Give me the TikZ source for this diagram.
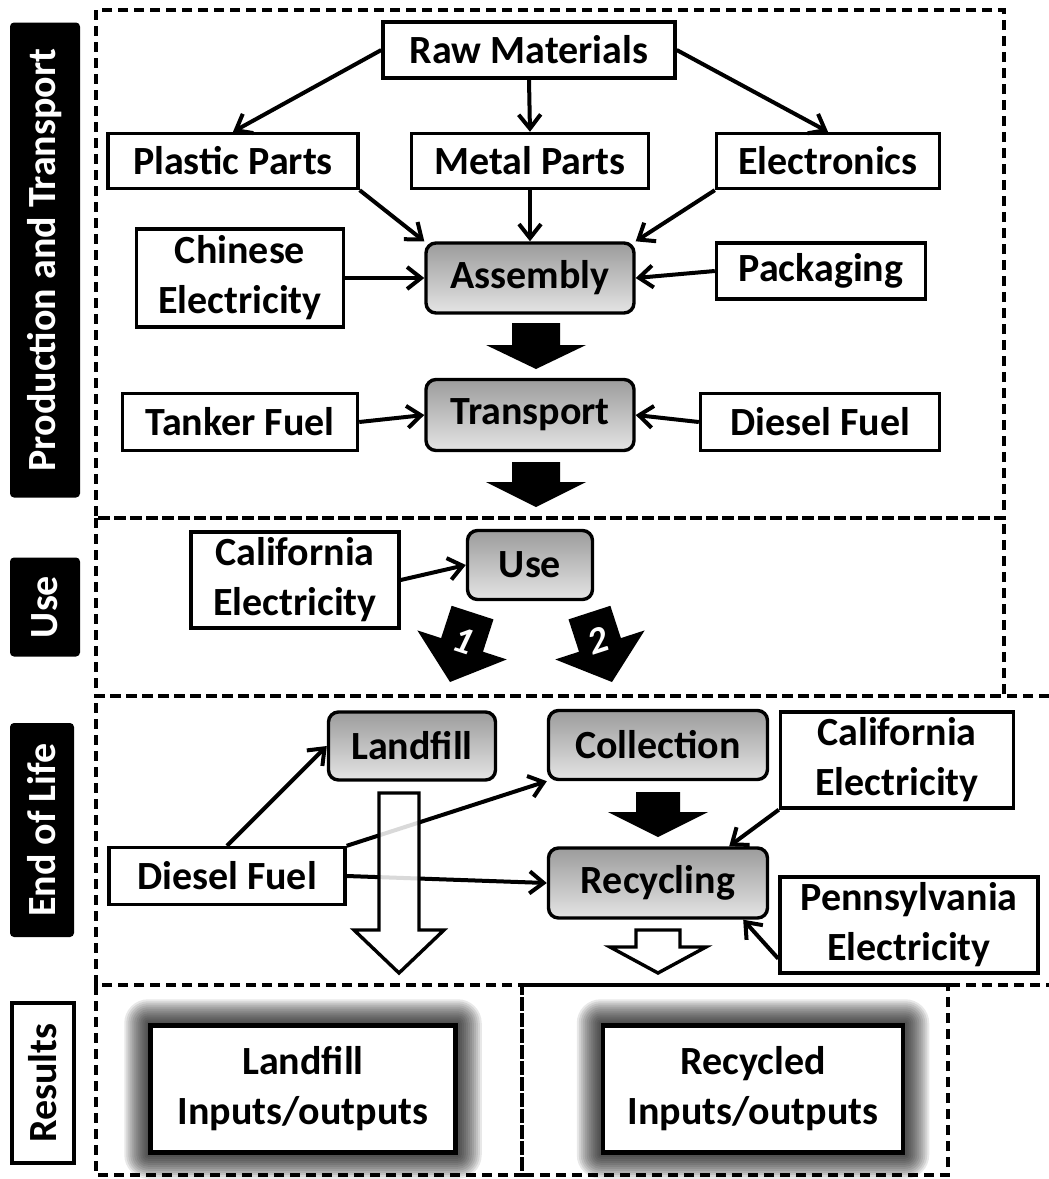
\documentclass[tikz,border=0pt]{standalone}
\usepackage{fontspec}
\setmainfont{Carlito}
\usetikzlibrary{arrows.meta,calc,backgrounds}
\definecolor{boxtop}{RGB}{156,156,156}
\definecolor{boxbot}{RGB}{228,228,228}

\begin{document}
\begin{tikzpicture}[x=1pt,y=1pt,
  font=\fontsize{40}{50}\selectfont\bfseries,
  line width=3.4pt,
  stagebox/.style={draw, fill=white, align=center, inner sep=0pt},
  procbox/.style={draw, rounded corners=10pt, top color=boxtop, bottom color=boxbot, inner sep=0pt},
  sidebar/.style={fill=black, text=white, rounded corners=4pt, rotate=90, inner sep=0pt},
  region/.style={line width=3.6pt, dash pattern=on 10pt off 6pt},
  flow/.style={line width=4pt, -{Straight Barb[length=14pt,width=22pt]}},
  pics/fatarrow/.style n args={4}{code={
    \path[pic actions] (0,0) -- (-#2,#3) -- (-#1,#3) -- (-#1,#4) -- (#1,#4) -- (#1,#3) -- (#2,#3) -- cycle;}}]
  \useasboundingbox (0,0) rectangle (1049,-1179);

  % dashed regions
  \draw[region] (96,-10) rectangle (1004,-518);
  \draw[region] (96,-518) rectangle (1004,-696);
  \draw[region] (1049,-696) -- (96,-696) -- (96,-985) -- (1049,-985);
  \draw[region] (96,-985) rectangle (522,-1175);
  \draw[region] (522,-985) rectangle (948,-1175);

  % side labels
  \node[sidebar, minimum width=475pt, minimum height=70pt] (sidept) at (45,-260) {Production and Transport};
  \node[sidebar, minimum width=99pt, minimum height=70pt] (sideuse) at (45,-607) {Use};
  \node[sidebar, minimum width=214pt, minimum height=64pt] (sideeol) at (42,-830) {End of Life};
  \node[draw, fill=white, rotate=90, inner sep=0pt, minimum width=160pt, minimum height=62pt] (sideres) at (43,-1083) {Results};

  % production and transport
  \node[stagebox, minimum width=292pt, minimum height=56pt] (raw) at (529,-50) {Raw Materials};
  \node[stagebox, minimum width=250pt, minimum height=55pt] (plastic) at (233,-161) {Plastic Parts};
  \node[stagebox, minimum width=237pt, minimum height=55pt] (metal) at (530,-161) {Metal Parts};
  \node[stagebox, minimum width=223pt, minimum height=55pt] (elec) at (828,-161) {Electronics};
  \node[stagebox, minimum width=207pt, minimum height=98pt] (chinese) at (240,-278) {Chinese\\Electricity};
  \node[procbox, minimum width=208pt, minimum height=70pt] (assembly) at (530,-278) {Assembly};
  \node[stagebox, minimum width=209pt, minimum height=56pt] (packaging) at (821,-271) {Packaging};
  \node[procbox, minimum width=208pt, minimum height=71pt] (transport) at (530,-415) {Transport};
  \node[stagebox, minimum width=235pt, minimum height=57pt] (tanker) at (240,-422) {Tanker Fuel};
  \node[stagebox, minimum width=239pt, minimum height=57pt] (dieselpt) at (820,-422) {Diesel Fuel};

  \draw[flow] (raw.west) -- (plastic.north);
  \draw[flow] (raw.south) -- (metal.north);
  \draw[flow] (raw.east) -- (elec.north);
  \draw[flow] (plastic.south east) -- (assembly.north west);
  \draw[flow] (metal.south) -- (assembly.north);
  \draw[flow] (elec.south west) -- (assembly.north east);
  \draw[flow] (chinese.east) -- (assembly.west);
  \draw[flow] (packaging.west) -- (assembly.east);
  \draw[flow] (tanker.east) -- (transport.west);
  \draw[flow] (dieselpt.west) -- (transport.east);
  \pic[fill=black] at (536,-369) {fatarrow={24}{50}{24}{46}};
  \pic[fill=black] at (536,-507) {fatarrow={24}{50}{25}{45}};

  % use
  \node[stagebox, minimum width=208pt, minimum height=96pt] (califuse) at (295,-580) {California\\Electricity};
  \node[procbox, minimum width=125pt, minimum height=69pt] (use) at (530,-565) {Use};
  \draw[flow] (califuse.east) -- (use.west);
  \pic[fill=black, rotate=-18] at (450,-682) {fatarrow={22}{47}{39}{73}};
  \pic[fill=black, rotate=18] at (612,-682) {fatarrow={22}{47}{39}{73}};
  \node[text=white, rotate=-18, font=\fontsize{38}{38}\selectfont\bfseries\itshape] (numone) at (463,-641) {1};
  \node[text=white, rotate=18, font=\fontsize{38}{38}\selectfont\bfseries\itshape] (numtwo) at (598,-641) {2};

  % end of life
  \node[procbox, minimum width=167pt, minimum height=68pt] (landfill) at (412,-746) {Landfill};
  \node[procbox, minimum width=219pt, minimum height=69pt] (collection) at (658,-745) {Collection};
  \node[stagebox, minimum width=233pt, minimum height=96pt] (califeol) at (897,-760) {California\\Electricity};
  \node[stagebox, minimum width=236pt, minimum height=57pt] (dieseleol) at (227,-876) {Diesel Fuel};
  \node[procbox, minimum width=219pt, minimum height=70pt] (recycling) at (658,-883) {Recycling};
  \node[stagebox, minimum width=258pt, minimum height=96pt] (penn) at (909,-925) {Pennsylvania\\Electricity};

  \draw[flow] (dieseleol.north) -- (landfill.west);
  \draw[flow] (dieseleol.north east) -- (collection.south west);
  \draw[flow] (dieseleol.east) -- (recycling.west);
  \draw[flow] (califeol.south west) -- ([xshift=-40pt]recycling.north east);
  \draw[flow] ([yshift=16pt]penn.south west) -- ([xshift=-26pt]recycling.south east);
  \pic[fill=black] at (658,-837) {fatarrow={22}{50}{25}{45}};
  \pic[draw, fill=white, fill opacity=0.85] at (399,-973) {fatarrow={20}{45}{43}{180}};
  \pic[draw, fill=white] at (658,-973) {fatarrow={22}{48}{26}{43}};

  % results
  \node[stagebox, line width=4.5pt, minimum width=305pt, minimum height=127pt] (lfres) at (303,-1089) {Landfill\\Inputs/outputs};
  \node[stagebox, line width=4.5pt, minimum width=300pt, minimum height=127pt] (rcres) at (753,-1089) {Recycled\\Inputs/outputs};
  \begin{scope}[on background layer]
    \foreach \b in {lfres,rcres}
      \foreach \r in {2,4,...,24}
        \fill[black, fill opacity=0.09, rounded corners=\r pt]
          ($(\b.south west)+(-\r,-\r)$) rectangle ($(\b.north east)+(\r,\r)$);
  \end{scope}
\end{tikzpicture}
\end{document}
